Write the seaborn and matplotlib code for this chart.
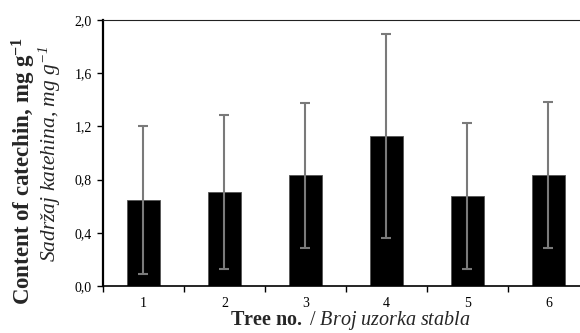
import matplotlib
matplotlib.use("Agg")
import matplotlib.pyplot as plt
import seaborn as sns
import pandas as pd
import numpy as np
from matplotlib.ticker import FixedLocator

trees = ["1", "2", "3", "4", "5", "6"]
catechin = [0.647, 0.707, 0.832, 1.128, 0.677, 0.832]
sd = [0.557, 0.580, 0.545, 0.770, 0.550, 0.550]
y_ticks = [0.0, 0.4, 0.8, 1.2, 1.6, 2.0]
y_ticklabels = ["0,0", "0,4", "0,8", "1,2", "1,6", "2,0"]

sns.set_theme(style="white")
plt.rcParams["font.family"] = ["Liberation Serif", "DejaVu Serif"]
plt.rcParams["mathtext.fontset"] = "custom"
plt.rcParams["mathtext.rm"] = "Liberation Serif"
plt.rcParams["mathtext.it"] = "Liberation Serif:italic"
plt.rcParams["mathtext.bf"] = "Liberation Serif:bold"
plt.rcParams["mathtext.default"] = "regular"

df = pd.DataFrame({"tree": trees, "catechin": catechin})

fig = plt.figure(figsize=(5.8, 3.33), dpi=100)
ax = fig.add_axes([103 / 580, 47 / 333, 477 / 580, 266 / 333])

sns.barplot(data=df, x="tree", y="catechin", order=trees, color="black",
            width=0.4, errorbar=None, edgecolor="#555555", linewidth=0.6, ax=ax)
ax.errorbar(np.arange(len(trees)), catechin, yerr=sd, fmt="none",
            ecolor="#7a7a7a", elinewidth=1.5, capsize=3.5, capthick=1.5, zorder=5)

ax.set_ylim(0, 2.0)
ax.set_xlim(-0.5, 5.39)
ax.set_yticks(y_ticks)
ax.set_yticklabels(y_ticklabels)
ax.xaxis.set_minor_locator(FixedLocator(np.arange(len(trees)) - 0.5))
ax.tick_params(axis="x", which="major", length=0, pad=8, labelsize=10, colors="black")
ax.tick_params(axis="x", which="minor", bottom=True, length=4, width=1, direction="out", color="black")
ax.tick_params(axis="y", which="major", left=True, length=4, width=1, direction="out",
               labelsize=10, pad=4, colors="black")
ax.set_xlabel("")
ax.set_ylabel("")

ax.spines["left"].set_linewidth(1.6)
ax.spines["left"].set_color("black")
ax.spines["bottom"].set_linewidth(1.2)
ax.spines["bottom"].set_color("black")
ax.spines["top"].set_linewidth(0.8)
ax.spines["top"].set_color("#222222")
ax.spines["right"].set_visible(False)

fig.text(24 / 580, 1 - 171 / 333, "Content of catechin, mg g$^{-1}$", rotation=90,
         ha="center", va="center", fontsize=16.5, fontweight="bold")
fig.text(50 / 580, 1 - 154 / 333, "Sadržaj katehina, mg g$^{-1}$", rotation=90,
         ha="center", va="center", fontsize=15.5, style="italic")
fig.text(350 / 580, 1 / 333, r"$\mathbf{Tree\ no.}$ / $\mathit{Broj\ uzorka\ stabla}$",
         ha="center", va="bottom", fontsize=14.5)

fig.savefig("out.png", dpi=100)
